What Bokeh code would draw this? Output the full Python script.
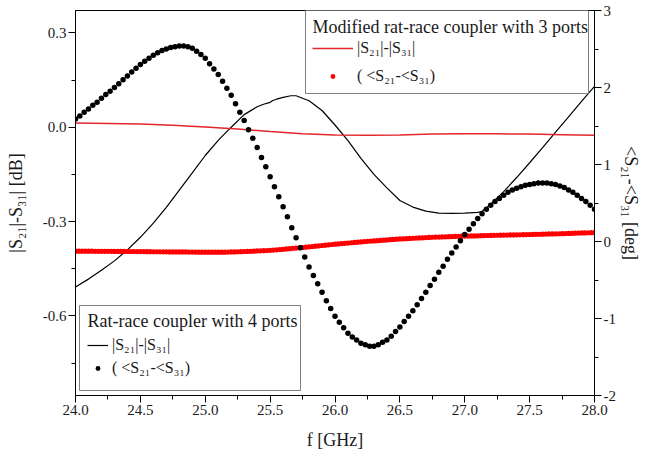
import numpy as np
from bokeh.plotting import figure
from bokeh.models import (Range1d, LinearAxis, FixedTicker, PrintfTickFormatter,
                          Legend, LegendItem, BoxAnnotation, Label)
from bokeh.embed import file_html
from bokeh.resources import INLINE

# ---------------- data ----------------
# Rat-race coupler with 4 ports: |S21|-|S31| [dB]
f_line4 = [24.0, 24.1, 24.2, 24.3, 24.4, 24.5, 24.6, 24.7, 24.8, 24.9,
           25.0, 25.1, 25.2, 25.3, 25.4, 25.45, 25.5, 25.52, 25.55, 25.6,
           25.66, 25.7, 25.8, 25.9, 26.0, 26.1, 26.2, 26.3, 26.4, 26.5,
           26.6, 26.7, 26.8, 26.9, 27.0, 27.1, 27.13, 27.15, 27.2, 27.3,
           27.4, 27.5, 27.6, 27.7, 27.8, 27.9, 28.0]
mag4 = [-0.508, -0.483, -0.455, -0.425, -0.390, -0.350, -0.305, -0.255, -0.200, -0.145,
        -0.090, -0.042, 0.000, 0.040, 0.065, 0.073, 0.079, 0.085, 0.089, 0.095,
        0.100, 0.100, 0.084, 0.053, 0.007, -0.043, -0.099, -0.150, -0.193, -0.233,
        -0.254, -0.267, -0.273, -0.274, -0.273, -0.271, -0.268, -0.262, -0.245, -0.205,
        -0.160, -0.113, -0.065, -0.016, 0.033, 0.082, 0.130]

# Modified rat-race coupler with 3 ports: |S21|-|S31| [dB]
f_line3 = [24.0, 24.25, 24.5, 24.75, 25.0, 25.25, 25.5, 25.75, 26.0,
           26.25, 26.5, 26.75, 27.0, 27.25, 27.5, 27.75, 28.0]
mag3 = [0.013, 0.012, 0.010, 0.006, 0.001, -0.006, -0.014, -0.021, -0.025,
        -0.026, -0.025, -0.022, -0.021, -0.021, -0.022, -0.024, -0.026]

# Rat-race coupler with 4 ports: <S21-<S31 [deg], sweep 24-28 GHz, 121 points
f_dots4 = np.linspace(24.0, 28.0, 121)
phase4 = [1.59, 1.63, 1.68, 1.72, 1.77, 1.81, 1.86, 1.91, 1.95, 2.00,
          2.05, 2.10, 2.15, 2.20, 2.25, 2.30, 2.34, 2.38, 2.42, 2.45,
          2.48, 2.50, 2.52, 2.53, 2.54, 2.54, 2.53, 2.51, 2.47, 2.43,
          2.38, 2.31, 2.24, 2.17, 2.08, 1.99, 1.90, 1.79, 1.68, 1.57,
          1.45, 1.34, 1.22, 1.09, 0.97, 0.84, 0.71, 0.58, 0.45, 0.32,
          0.18, 0.05, -0.08, -0.20, -0.33, -0.44, -0.55, -0.66, -0.77, -0.87,
          -0.97, -1.05, -1.12, -1.19, -1.24, -1.28, -1.32, -1.34, -1.36, -1.36,
          -1.34, -1.31, -1.28, -1.23, -1.17, -1.11, -1.04, -0.97, -0.90, -0.82,
          -0.74, -0.66, -0.57, -0.49, -0.40, -0.32, -0.23, -0.15, -0.07, 0.01,
          0.09, 0.16, 0.23, 0.30, 0.36, 0.42, 0.47, 0.52, 0.56, 0.60,
          0.64, 0.67, 0.69, 0.71, 0.73, 0.74, 0.75, 0.76, 0.76, 0.76,
          0.75, 0.74, 0.72, 0.70, 0.67, 0.64, 0.60, 0.56, 0.52, 0.47,
          0.42]

# Modified rat-race coupler with 3 ports: <S21-<S31 [deg], sweep 24-28 GHz, 161 points
f_dots3 = np.linspace(24.0, 28.0, 161)
phase3 = [-0.125, -0.125, -0.126, -0.126, -0.126, -0.126, -0.127, -0.127, -0.127, -0.128,
          -0.128, -0.128, -0.129, -0.129, -0.129, -0.129, -0.130, -0.130, -0.130, -0.131,
          -0.131, -0.131, -0.132, -0.132, -0.133, -0.133, -0.133, -0.134, -0.134, -0.135,
          -0.135, -0.135, -0.136, -0.136, -0.136, -0.137, -0.137, -0.137, -0.138, -0.138,
          -0.138, -0.139, -0.139, -0.139, -0.139, -0.138, -0.138, -0.137, -0.136, -0.135,
          -0.133, -0.132, -0.130, -0.129, -0.127, -0.125, -0.123, -0.121, -0.119, -0.117,
          -0.115, -0.112, -0.108, -0.104, -0.101, -0.097, -0.093, -0.089, -0.086, -0.082,
          -0.078, -0.074, -0.069, -0.065, -0.061, -0.056, -0.052, -0.048, -0.043, -0.039,
          -0.035, -0.031, -0.027, -0.024, -0.020, -0.016, -0.012, -0.009, -0.005, -0.001,
          0.002, 0.005, 0.008, 0.011, 0.014, 0.017, 0.020, 0.024, 0.027, 0.030,
          0.033, 0.035, 0.037, 0.040, 0.042, 0.044, 0.046, 0.048, 0.051, 0.053,
          0.055, 0.057, 0.058, 0.060, 0.061, 0.063, 0.064, 0.066, 0.067, 0.069,
          0.070, 0.071, 0.072, 0.073, 0.074, 0.075, 0.077, 0.078, 0.079, 0.080,
          0.081, 0.082, 0.083, 0.084, 0.085, 0.086, 0.087, 0.088, 0.089, 0.090,
          0.091, 0.092, 0.093, 0.094, 0.095, 0.096, 0.098, 0.099, 0.100, 0.101,
          0.102, 0.103, 0.105, 0.106, 0.108, 0.109, 0.111, 0.112, 0.114, 0.115,
          0.117]

x_ticks = [24.0, 24.5, 25.0, 25.5, 26.0, 26.5, 27.0, 27.5, 28.0]
x_minor = [24.25, 24.75, 25.25, 25.75, 26.25, 26.75, 27.25, 27.75]
left_ticks = [-0.6, -0.3, 0.0, 0.3]
left_minor = [-0.75, -0.45, -0.15, 0.15]
right_ticks = [-2, -1, 0, 1, 2, 3]
right_minor = [-1.5, -0.5, 0.5, 1.5, 2.5]

title3 = "Modified rat-race coupler with 3 ports"
title4 = "Rat-race coupler with 4 ports"
lab_mag = "|S\u2082\u2081|-|S\u2083\u2081|"
lab_phase = "( <S\u2082\u2081-<S\u2083\u2081)"

FONT = "Liberation Serif"
RED = "#e3262b"
DOT_RED = "#ff0000"
TXT = "#1a1a1a"

# ---------------- figure ----------------
p = figure(frame_width=519, frame_height=385,
           x_range=Range1d(24.0, 28.0), y_range=Range1d(-0.853, 0.371),
           output_backend="svg", toolbar_location=None,
           min_border_left=75, min_border_top=10, min_border_right=44,
           min_border_bottom=56)
p.xgrid.visible = False
p.ygrid.visible = False
p.outline_line_color = "black"
p.outline_line_width = 1
p.background_fill_color = "white"
p.border_fill_color = "white"
p.extra_y_ranges = {"deg": Range1d(-2, 3)}


def style(ax):
    ax.axis_line_color = "black"
    ax.major_tick_line_color = "black"
    ax.minor_tick_line_color = "black"
    ax.major_tick_out = 7
    ax.major_tick_in = 0
    ax.minor_tick_out = 4
    ax.minor_tick_in = 0
    ax.major_label_text_font = FONT
    ax.major_label_text_font_size = "15px"
    ax.major_label_text_color = TXT
    ax.major_label_standoff = 2
    ax.axis_label_text_font = FONT
    ax.axis_label_text_font_size = "18px"
    ax.axis_label_text_font_style = "normal"
    ax.axis_label_text_color = TXT


xa = p.xaxis[0]
style(xa)
xa.ticker = FixedTicker(ticks=x_ticks, minor_ticks=x_minor)
xa.formatter = PrintfTickFormatter(format="%.1f")
xa.axis_label = "f [GHz]"
xa.axis_label_standoff = 12

ya = p.yaxis[0]
style(ya)
ya.ticker = FixedTicker(ticks=left_ticks, minor_ticks=left_minor)
ya.formatter = PrintfTickFormatter(format="%.1f")
ya.axis_label = "|S\u2082\u2081|-S\u2083\u2081| [dB]"
ya.axis_label_standoff = 14

ra = LinearAxis(y_range_name="deg")
style(ra)
ra.ticker = FixedTicker(ticks=right_ticks, minor_ticks=right_minor)
ra.formatter = PrintfTickFormatter(format="%d")
ra.axis_label = "<S\u2082\u2081-<S\u2083\u2081 [deg]"
ra.axis_label_standoff = 2
p.add_layout(ra, "right")

# ---------------- glyphs ----------------
r_l4 = p.line(f_line4, mag4, line_color="black", line_width=1.2)
r_l3 = p.line(f_line3, mag3, line_color=RED, line_width=1.5)
r_d3 = p.scatter(f_dots3, phase3, y_range_name="deg", size=5.2,
                 fill_color=DOT_RED, line_color=None)
r_d4 = p.scatter(f_dots4, phase4, y_range_name="deg", size=5.5,
                 fill_color="black", line_color=None)

# ---------------- legends (box + title + entries) ----------------
# layout in screen px, relative to the plot frame (y up from frame bottom)
box3 = dict(left=230, right=513, bottom=302, top=385)
box4 = dict(left=4, right=225, bottom=5, top=90)


def legend_box(b):
    return BoxAnnotation(left=b["left"], right=b["right"], bottom=b["bottom"], top=b["top"],
                         left_units="screen", right_units="screen",
                         bottom_units="screen", top_units="screen",
                         fill_color="white", fill_alpha=1.0,
                         line_color="#808080", line_width=1, line_alpha=1.0)


def legend_title(text, x, y):
    return Label(x=x, y=y, x_units="screen", y_units="screen", text=text,
                 text_font=FONT, text_font_size="18px", text_color=TXT,
                 text_baseline="middle", text_align="left")


def legend_entries(items, loc, glyph_w, glyph_h, entry_h):
    lg = Legend(items=items, location=loc)
    lg.label_text_font = FONT
    lg.label_text_font_size = "16px"
    lg.label_text_color = TXT
    lg.glyph_width = glyph_w
    lg.glyph_height = glyph_h
    lg.label_height = entry_h
    lg.label_standoff = 4
    lg.spacing = 0
    lg.padding = 0
    lg.margin = 0
    lg.border_line_color = None
    lg.background_fill_alpha = 0
    return lg


p.add_layout(legend_box(box3), "center")
p.add_layout(legend_box(box4), "center")
p.add_layout(legend_title(title3, 237, 369), "center")
p.add_layout(legend_title(title4, 12, 75), "center")
p.add_layout(legend_entries([LegendItem(label=lab_mag, renderers=[r_l3]),
                             LegendItem(label=lab_phase, renderers=[r_d3])],
                            (237, 305), 41, 12, 28), "center")
p.add_layout(legend_entries([LegendItem(label=lab_mag, renderers=[r_l4]),
                             LegendItem(label=lab_phase, renderers=[r_d4])],
                            (12, 16), 21, 12, 23), "center")

open("out.html", "w").write(file_html(p, INLINE))
